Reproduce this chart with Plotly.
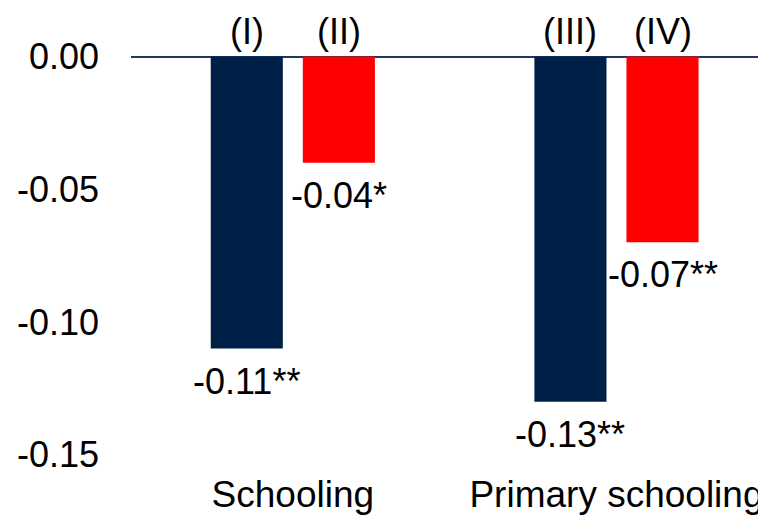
import plotly.graph_objects as go

categories = ["Schooling", "Primary schooling"]
series_a_values = [-0.11, -0.13]
series_b_values = [-0.04, -0.07]
series_a_top = ["(I)", "(III)"]
series_b_top = ["(II)", "(IV)"]
series_a_labels = ["-0.11**", "-0.13**"]
series_b_labels = ["-0.04*", "-0.07**"]
y_ticks = [0.0, -0.05, -0.10, -0.15]
y_tick_labels = ["0.00", "-0.05", "-0.10", "-0.15"]

NAVY = "#002147"
RED = "#FF0000"
FONT = "Arial, Liberation Sans, sans-serif"
FS = 36
BARGAP = 0.431

fig = go.Figure()
fig.add_trace(go.Bar(x=categories, y=series_a_values, marker=dict(color=NAVY, line=dict(width=0)),
                     showlegend=False))
fig.add_trace(go.Bar(x=categories, y=series_b_values, marker=dict(color=RED, line=dict(width=0)),
                     showlegend=False))

off = (1 - BARGAP) / 4
annotations = []
for i, cat in enumerate(categories):
    for sign, vals, tops, labs in ((-1, series_a_values, series_a_top, series_a_labels),
                                   (1, series_b_values, series_b_top, series_b_labels)):
        xpos = i + sign * off
        annotations.append(dict(x=xpos, y=0, text=tops[i], showarrow=False, yanchor="bottom",
                                xref="x", yref="y", yshift=3, font=dict(family=FONT, size=FS, color="black")))
        annotations.append(dict(x=xpos, y=vals[i], text=labs[i], showarrow=False, yanchor="top",
                                xref="x", yref="y", yshift=-10, font=dict(family=FONT, size=FS, color="black")))

# the page body adds an 8px margin, so the figure is sized to fill the rest of the window
fig.update_layout(
    width=758, height=507,
    margin=dict(l=123, r=0, t=22, b=47),
    paper_bgcolor="white", plot_bgcolor="white",
    barmode="group", bargap=BARGAP, bargroupgap=0.217,
    font=dict(family=FONT, size=FS, color="black"),
    annotations=annotations,
    xaxis=dict(range=[-0.5, 1.462], showgrid=False, zeroline=False, showline=False, ticks="",
               automargin=False, ticklabelstandoff=1,
               tickfont=dict(family=FONT, size=37, color="black")),
    yaxis=dict(range=[-0.155, 0.01], tickvals=y_ticks, ticktext=y_tick_labels, showgrid=False,
               zeroline=True, zerolinecolor="#1F3864", zerolinewidth=2, showline=False,
               ticks="", ticklabelstandoff=31, automargin=False,
               tickfont=dict(family=FONT, size=FS, color="black")),
)

fig.write_html("out.html")
